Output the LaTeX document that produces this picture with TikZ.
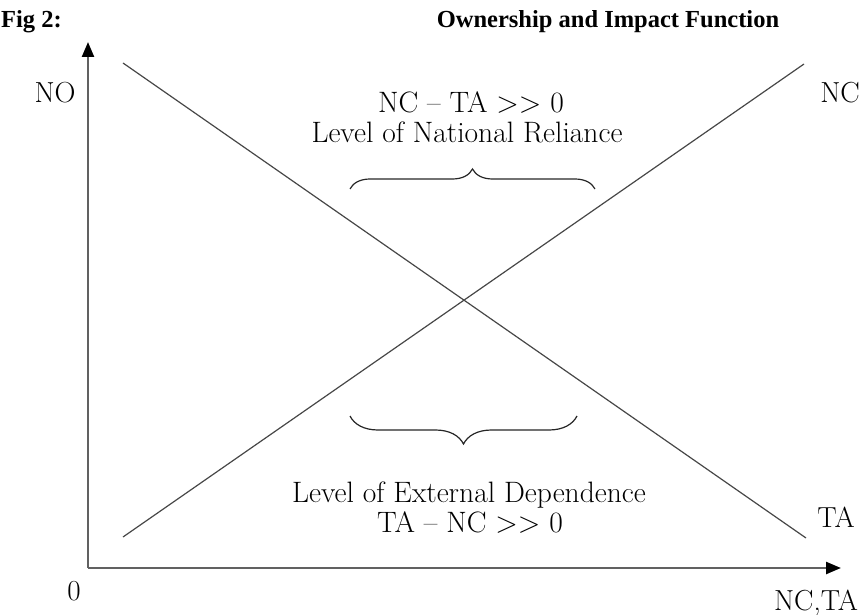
\documentclass[tikz,border=0pt]{standalone}
\usepackage{fontspec}
\newfontfamily\titlefont{Liberation Serif}
\usetikzlibrary{decorations.pathreplacing,arrows.meta}
\begin{document}
\begin{tikzpicture}[x=1pt,y=-1pt,
  axis/.style={draw=black!62,line width=2.4pt,-{Triangle[length=15pt 0,width=12pt 0,color=black,fill=black]}},
  curve/.style={draw=black!72,line width=1.2pt},
  lbl/.style={inner sep=0pt,anchor=base,font=\fontsize{29}{34}\selectfont},
  txt/.style={inner sep=0pt,anchor=base,font=\fontsize{29.5}{36}\selectfont},
  ttl/.style={inner sep=0pt,anchor=base,font=\titlefont\fontsize{24.5}{28}\selectfont\bfseries},
  brc/.style={draw=black!85,line width=1.2pt,decorate}]
\useasboundingbox (0,0) rectangle (863,615);
\node[ttl,anchor=base west] (fig) at (1,28) {Fig 2:};
\node[ttl] (title) at (608,28) {Ownership and Impact Function};
\coordinate (origin) at (88,568);
\coordinate (ytip) at (88,42);
\coordinate (xtip) at (841,568);
\draw[axis] (origin) -- (ytip);
\draw[axis] (origin) -- (xtip);
\coordinate (noStart) at (123,63);
\coordinate (taEnd) at (806,538);
\coordinate (ncStart) at (123,537);
\coordinate (ncEnd) at (804,64);
\draw[curve] (noStart) -- (taEnd);
\draw[curve] (ncStart) -- (ncEnd);
\node[lbl] (NO) at (55,103) {NO};
\node[lbl] (NC) at (840,103) {NC};
\node[lbl] (TA) at (836,527) {TA};
\node[lbl] (zero) at (74,600) {0};
\node[lbl] (NCTA) at (816,610) {NC,TA};
\node[txt] (t1) at (471,113) {NC -- TA {>}{>} 0};
\node[txt] (t2) at (467,143) {Level of National Reliance};
\node[txt] (t3) at (469,502) {Level of External Dependence};
\node[txt] (t4) at (470,532) {TA -- NC {>}{>} 0};
\coordinate (b1a) at (350,189);
\coordinate (b1b) at (595,189);
\coordinate (b2a) at (350,416);
\coordinate (b2b) at (577,416);
\draw[brc,decoration={brace,amplitude=20pt}] (b1a) -- (b1b);
\draw[brc,decoration={brace,amplitude=28pt}] (b2b) -- (b2a);
\end{tikzpicture}
\end{document}
